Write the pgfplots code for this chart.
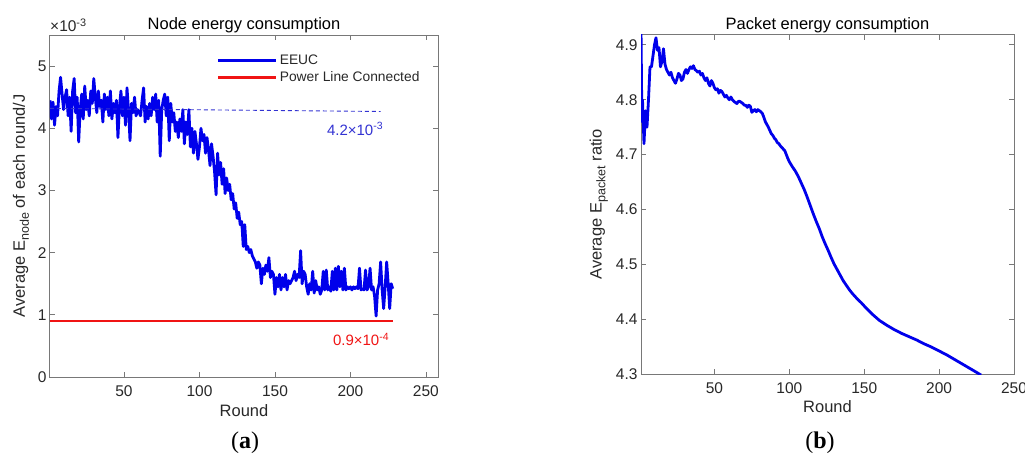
\documentclass[border=0pt]{standalone}
\usepackage{pgfplots}
\pgfplotsset{compat=1.18}
\usepackage{fontspec}
\setmainfont{Liberation Sans}
\newfontfamily\capfont{Liberation Serif}
\definecolor{mblue}{RGB}{0,0,235}
\definecolor{mred}{RGB}{240,20,20}
\definecolor{axgray}{RGB}{120,120,120}
\definecolor{txtgray}{RGB}{40,40,40}
\definecolor{annblue}{RGB}{50,50,210}
\newcommand{\msub}[1]{\raisebox{-0.45ex}{\fontsize{12.5}{13}\selectfont #1}}
\pgfplotsset{
  mstyle/.style={
    scale only axis,
    axis line style={draw=axgray, line width=1pt},
    tick style={draw=axgray, line width=0.8pt},
    tick align=inside, major tick length=5pt,
    ticklabel style={font=\fontsize{15.5}{17}\selectfont, text=txtgray},
    xticklabel style={yshift=-5pt},
    /pgf/number format/assume math mode=true,
    label style={font=\fontsize{16.5}{18}\selectfont, text=txtgray},
    title style={font=\fontsize{16.5}{18}\selectfont, text=black},
    every axis title shift=0pt,
    clip mode=individual,
    xtick={50,100,150,200,250},
    xlabel={Round},
    xlabel style={at={(axis description cs:0.5,-0.097)}, anchor=center},
  },
}

\begin{document}
\begin{tikzpicture}
% (a) node energy
\begin{axis}[mstyle,
  at={(50pt,89pt)}, anchor=south west,
  width=388pt, height=342pt,
  xmin=1, xmax=258, ymin=0, ymax=5.5,
  ytick={0,1,2,3,4,5},
  title={Node energy consumption},
  title style={at={(axis description cs:0.5,1.029)}, anchor=center},
  ylabel={Average E\msub{node} of each round/J},
  ylabel style={at={(axis description cs:-0.075,0.5)}, anchor=center},
  legend style={at={(rel axis cs:0.43,0.948)}, anchor=north west, draw=none, fill=none,
    inner sep=0pt, font=\fontsize{13.8}{15}\selectfont, text=txtgray, row sep=1.5pt,
    legend cell align=left},
  legend image code/.code={\draw[#1] (0pt,0pt) -- (58pt,0pt);},
]
\addplot[mblue, line width=2.8pt, line join=round] coordinates {
(1,4.45)(2,4.15)(3,4.42)(4,4.05)(5,4.35)(6,4.2)(7,4.6)(8,4.82)(9,4.55)(10,4.3)
(11,4.5)(12,4.62)(13,4.2)(14,4.5)(15,3.95)(16,4.6)(17,4.8)(18,4.25)(19,4.5)(20,3.78)
(21,4.3)(22,4.55)(23,4.15)(24,4.68)(25,4.3)(26,4.45)(27,4.2)(28,4.6)(29,4.4)(30,4.8)
(31,4.5)(32,4.25)(33,4.6)(34,4.35)(35,4.45)(36,4.1)(37,4.55)(38,4.3)(39,4.5)(40,4.2)
(41,4.6)(42,4.15)(43,4.4)(44,4.25)(45,4.45)(46,3.85)(47,4.35)(48,4.6)(49,4.2)(50,4.5)
(51,4.05)(52,4.65)(53,4.3)(54,3.8)(55,4.4)(56,4.25)(57,4.5)(58,4.2)(59,4.3)(60,4.25)
(61,4.2)(62,4.45)(63,4.65)(64,4.1)(65,4.35)(66,4.15)(67,4.4)(68,4.2)(69,4.5)(70,4.3)
(71,4.55)(72,4.1)(73,4.45)(74,3.55)(75,4.3)(76,4.45)(77,4.55)(78,4.2)(79,4.5)(80,3.8)
(81,4.4)(82,4.1)(83,4.25)(84,3.95)(85,4.1)(86,3.85)(87,4.15)(88,3.95)(89,4.3)(90,3.75)
(91,4.1)(92,3.9)(93,4.3)(94,3.7)(95,4.0)(96,3.6)(97,3.95)(98,3.75)(99,3.5)(100,3.7)
(101,4.0)(102,3.8)(103,3.9)(104,3.6)(105,3.85)(106,3.65)(107,3.4)(108,3.75)(109,3.55)(110,3.3)
(111,2.93)(112,3.6)(113,3.25)(114,3.45)(115,3.1)(116,3.35)(117,2.95)(118,3.2)(119,3.0)(120,3.1)
(121,2.85)(122,2.95)(123,2.7)(124,2.8)(125,2.55)(126,2.65)(127,2.45)(128,2.5)(129,2.1)(130,2.45)
(131,2.05)(132,2.1)(133,2.0)(134,2.05)(135,1.95)(136,1.9)(137,1.85)(138,1.75)(139,1.85)(140,1.8)
(141,1.5)(142,1.75)(143,1.65)(144,1.8)(145,1.7)(146,1.92)(147,1.6)(148,1.7)(149,1.65)(150,1.33)
(151,1.6)(152,1.45)(153,1.65)(154,1.4)(155,1.6)(156,1.45)(157,1.65)(158,1.4)(159,1.55)(160,1.5)
(161,1.55)(162,1.6)(163,1.7)(164,1.55)(165,1.65)(166,1.6)(167,2.03)(168,1.5)(169,1.7)(170,1.65)
(171,1.45)(172,1.33)(173,1.5)(174,1.4)(175,1.7)(176,1.35)(177,1.55)(178,1.4)(179,1.45)(180,1.33)
(181,1.4)(182,1.7)(183,1.4)(184,1.72)(185,1.4)(186,1.45)(187,1.38)(188,1.7)(189,1.4)(190,1.75)
(191,1.4)(192,1.78)(193,1.45)(194,1.7)(195,1.4)(196,1.75)(197,1.4)(198,1.45)(199,1.42)(200,1.45)
(201,1.4)(202,1.45)(203,1.42)(204,1.45)(205,1.42)(206,1.75)(207,1.4)(208,1.42)(209,1.4)(210,1.72)
(211,1.4)(212,1.45)(213,1.75)(214,1.4)(215,1.45)(216,1.3)(217,0.98)(218,1.4)(219,1.5)(220,1.85)
(221,1.4)(222,1.1)(223,1.45)(224,1.85)(225,1.5)(226,1.1)(227,1.5)(228,1.42)
};
\addlegendentry{EEUC}
\addplot[mred, line width=2.8pt] coordinates {(1,0.9)(228,0.9)};
\addlegendentry{Power Line Connected}
\addplot[annblue, line width=0.9pt, dash pattern=on 4pt off 3pt, forget plot]
  coordinates {(1,4.32)(220,4.27)};
\node[annblue, anchor=base east, font=\fontsize{15}{17}\selectfont]
  at (axis cs:224,3.89) {4.2×10\textsuperscript{-3}};
\node[mred, anchor=base east, font=\fontsize{15}{17}\selectfont]
  at (axis cs:228,0.51) {0.9×10\textsuperscript{-4}};
\node[anchor=base west, text=txtgray, font=\fontsize{15.5}{17}\selectfont, inner sep=0pt]
  at ([yshift=3pt]rel axis cs:0,1) {×10\textsuperscript{-3}};
\end{axis}

% (b) packet energy
\begin{axis}[mstyle,
  at={(641pt,92pt)}, anchor=south west,
  width=373pt, height=339pt,
  xmin=1, xmax=250, ymin=4.3, ymax=4.918,
  ytick={4.3,4.4,4.5,4.6,4.7,4.8,4.9},
  yticklabel style={/pgf/number format/.cd, fixed, fixed zerofill, precision=1},
  title={Packet energy consumption},
  title style={at={(axis description cs:0.5,1.029)}, anchor=center},
  ylabel={Average E\msub{packet} ratio},
  ylabel style={at={(axis description cs:-0.113,0.5)}, anchor=center},
]
\addplot[mblue, line width=2.8pt, line join=round] coordinates {
(1,4.93)(1.6,4.76)(2,4.80)(3,4.72)(4,4.78)(5,4.75)(6,4.80)(7,4.86)(8,4.86)(9,4.88)
(10,4.90)(11,4.913)(12,4.89)(13,4.895)(14,4.86)(15,4.87)(16,4.893)(17,4.865)(18,4.855)(19,4.85)
(20,4.845)(21,4.85)(22,4.84)(23,4.835)(24,4.83)(25,4.838)(26,4.848)(27,4.845)(28,4.835)(29,4.838)
(30,4.85)(31,4.855)(32,4.848)(33,4.855)(34,4.86)(35,4.857)(36,4.862)(37,4.855)(38,4.853)(39,4.85)
(40,4.852)(41,4.845)(42,4.848)(43,4.84)(44,4.835)(45,4.84)(46,4.83)(47,4.825)(48,4.835)(49,4.83)
(50,4.822)(51,4.818)(52,4.82)(53,4.812)(54,4.817)(55,4.815)(56,4.81)(57,4.805)(58,4.808)(59,4.803)
(60,4.80)(61,4.805)(62,4.80)(63,4.797)(64,4.795)(65,4.793)(66,4.797)(67,4.797)(68,4.795)(69,4.793)
(70,4.79)(71,4.79)(72,4.786)(73,4.79)(74,4.788)(75,4.777)(76,4.78)(77,4.782)(78,4.778)(79,4.782)
(80,4.78)(81,4.778)(82,4.775)(83,4.768)(84,4.76)(85,4.755)(86,4.75)(87,4.744)(88,4.738)(89,4.735)
(90,4.73)(91,4.727)(92,4.722)(93,4.72)(94,4.716)(95,4.713)(96,4.71)(97,4.707)(98,4.70)(99,4.693)
(100,4.687)(102,4.678)(104,4.67)(106,4.66)(108,4.648)(110,4.636)(112,4.622)(114,4.607)(116,4.592)
(118,4.578)(120,4.565)(122,4.55)(124,4.537)(126,4.525)(128,4.512)(130,4.5)(132,4.49)(134,4.48)
(136,4.47)(138,4.462)(140,4.454)(142,4.447)(144,4.441)(146,4.435)(148,4.43)(150,4.424)(155,4.41)
(160,4.398)(165,4.389)(170,4.381)(175,4.374)(180,4.368)(185,4.362)(190,4.355)(195,4.349)
(200,4.342)(205,4.335)(210,4.327)(215,4.319)(220,4.311)(225,4.303)(228,4.298)
};
\end{axis}

\node[font=\capfont\fontsize{24}{26}\selectfont] at (245pt,23pt) {(\textbf{a})};
\node[font=\capfont\fontsize{24}{26}\selectfont] at (820pt,23pt) {(\textbf{b})};
\pgfresetboundingbox
\useasboundingbox (0pt,0pt) rectangle (1025pt,466pt);
\end{tikzpicture}
\end{document}
